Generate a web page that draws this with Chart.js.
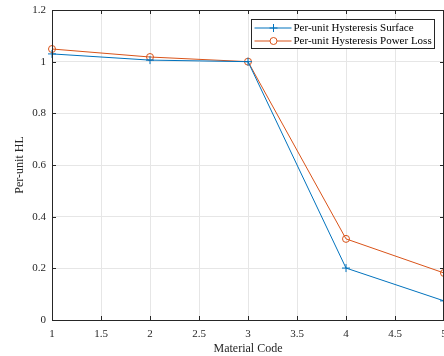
<!DOCTYPE html>
<html><head><meta charset="utf-8">
<script src="https://cdn.jsdelivr.net/npm/chart.js@4/dist/chart.umd.min.js"></script>
<style>html,body{margin:0;padding:0;overflow:hidden;background:#fff;width:444px;height:356px}canvas{display:block}</style>
</head><body>
<canvas id="c" width="452" height="356"></canvas>
<script>
const materialCodes = [1, 2, 3, 4, 5];
const hysteresisSurface = [1.03, 1.006, 1.0, 0.201, 0.074];
const hysteresisPowerLoss = [1.049, 1.018, 1.0, 0.314, 0.182];
const seriesLabels = ['Per-unit Hysteresis Surface', 'Per-unit Hysteresis Power Loss'];
const xTitle = 'Material Code';
const yTitle = 'Per-unit HL';

const FONT = "'Liberation Serif', 'Times New Roman', serif";
const TXT = '#262626';
const BLUE = '#0072BD', ORANGE = '#D95319';
const fmt = v => String(Math.round(v * 10) / 10);

const boxPlugin = {
  id: 'box',
  afterDraw(chart) {
    const {ctx, chartArea: a, scales} = chart;
    ctx.save();
    ctx.strokeStyle = '#262626';
    ctx.lineWidth = 1;
    ctx.strokeRect(Math.round(a.left) + 0.5, Math.round(a.top) + 0.5, Math.round(a.right - a.left) - 1, Math.round(a.bottom - a.top));
    ctx.beginPath();
    scales.x.ticks.forEach(t => {
      const x = Math.round(scales.x.getPixelForValue(t.value)) + 0.5;
      ctx.moveTo(x, a.bottom); ctx.lineTo(x, a.bottom - 4);
      ctx.moveTo(x, a.top); ctx.lineTo(x, a.top + 4);
    });
    scales.y.ticks.forEach(t => {
      const y = Math.round(scales.y.getPixelForValue(t.value)) + 0.5;
      ctx.moveTo(a.left, y); ctx.lineTo(a.left + 4, y);
      ctx.moveTo(a.right, y); ctx.lineTo(a.right - 4, y);
    });
    ctx.stroke();
    const lx = 251.5, ly = 19.5, lw = 183, lh = 29;
    ctx.fillStyle = '#fff';
    ctx.fillRect(lx, ly, lw, lh);
    ctx.strokeStyle = '#262626';
    ctx.strokeRect(lx, ly, lw, lh);
    ctx.font = '11px ' + FONT;
    ctx.textBaseline = 'middle';
    chart.data.datasets.forEach((ds, i) => {
      const y = ly + 8.5 + i * 13;
      ctx.strokeStyle = ds.borderColor;
      ctx.lineWidth = 1;
      ctx.beginPath(); ctx.moveTo(lx + 3, y); ctx.lineTo(lx + 40, y); ctx.stroke();
      const cx = lx + 22;
      if (ds.pointStyle === 'cross') {
        ctx.beginPath(); ctx.moveTo(cx - 4, y); ctx.lineTo(cx + 4, y); ctx.moveTo(cx, y - 4); ctx.lineTo(cx, y + 4); ctx.stroke();
      } else {
        ctx.beginPath(); ctx.arc(cx, y, 3.5, 0, Math.PI * 2); ctx.fillStyle = '#fff'; ctx.fill(); ctx.stroke();
      }
      ctx.fillStyle = '#000';
      ctx.fillText(ds.label, lx + 42, y + 0.5);
    });
    ctx.restore();
  }
};

new Chart(document.getElementById('c'), {
  type: 'line',
  data: {
    datasets: [
      { label: seriesLabels[0], data: materialCodes.map((x, i) => ({x, y: hysteresisSurface[i]})),
        borderColor: BLUE, backgroundColor: BLUE, borderWidth: 1, pointStyle: 'cross', pointRadius: 4, pointBorderWidth: 1, tension: 0 },
      { label: seriesLabels[1], data: materialCodes.map((x, i) => ({x, y: hysteresisPowerLoss[i]})),
        borderColor: ORANGE, backgroundColor: 'rgba(255,255,255,0)', borderWidth: 1, pointStyle: 'circle', pointRadius: 3.5, pointBorderWidth: 1, tension: 0 }
    ]
  },
  options: {
    responsive: false, animation: false, clip: false,
    layout: { padding: { top: 10, right: 8, left: 0, bottom: 0 } },
    plugins: { legend: { display: false }, tooltip: { enabled: false } },
    scales: {
      x: { type: 'linear', min: 1, max: 5,
        ticks: { stepSize: 0.5, color: TXT, font: { family: FONT, size: 11 }, padding: 8, maxRotation: 0, autoSkip: false, callback: fmt },
        grid: { color: '#e6e6e6', drawTicks: false },
        border: { display: false },
        title: { display: true, text: xTitle, color: TXT, font: { family: FONT, size: 12 }, padding: { top: 0, bottom: 0 } },
        afterFit(s) { s.height = 36; s.paddingLeft = 0; s.paddingRight = 0; } },
      y: { min: 0, max: 1.2,
        ticks: { stepSize: 0.2, color: TXT, font: { family: FONT, size: 11 }, padding: 6, callback: fmt },
        grid: { color: '#e6e6e6', drawTicks: false },
        border: { display: false },
        title: { display: true, text: yTitle, color: TXT, font: { family: FONT, size: 12 }, padding: { top: 13, bottom: 0 } },
        afterFit(s) { s.width = 52; s.paddingTop = 0; s.paddingBottom = 0; } }
    }
  },
  plugins: [boxPlugin]
});
</script>
</body></html>
